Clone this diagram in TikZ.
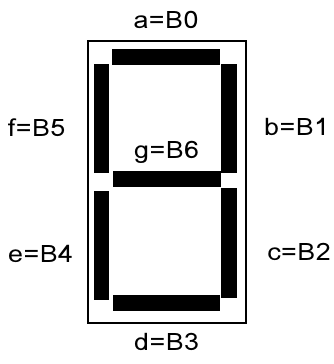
\documentclass[tikz,border=0pt]{standalone}
\usepackage{fontspec}
\setmainfont[FakeStretch=1.12,LetterSpace=2]{Loma}
\usepackage{tikz}
\usetikzlibrary{positioning}

\begin{document}
\begin{tikzpicture}[
    x=1pt, y=-1pt,
    hseg/.style={rectangle, fill=black, inner sep=0pt, minimum width=107.5pt, minimum height=15.5pt},
    vseg/.style={rectangle, fill=black, inner sep=0pt, minimum width=15.3pt, minimum height=109.5pt},
    frame/.style={rectangle, draw=black, line width=2pt, inner sep=0pt, minimum width=158.6pt, minimum height=281.8pt},
    pin/.style={anchor=base, inner sep=0pt, font=\fontsize{24}{28}\selectfont}
]
\useasboundingbox (0,0) rectangle (334,364);
% display housing
\node[frame] (display) at (167,182) {};
% segments
\node[hseg] (sega) at (166.2,57.2) {};
\node[vseg] (segb) at (229,118.3) {};
\node[vseg] (segc) at (229,243) {};
\node[hseg] (segd) at (166.3,303) {};
\node[vseg] (sege) at (101.5,245.3) {};
\node[vseg] (segf) at (101.7,118.3) {};
\node[hseg] (segg) at (167.2,179.2) {};
% bit labels
\node[pin] (laba) at (166,28) {a=B0};
\node[pin] (labb) at (296.7,135) {b=B1};
\node[pin] (labc) at (299,260) {c=B2};
\node[pin] (labd) at (166.7,350) {d=B3};
\node[pin] (labe) at (40.7,262) {e=B4};
\node[pin] (labf) at (36.7,136.7) {f=B5};
\node[pin] (labg) at (166.7,158) {g=B6};
\end{tikzpicture}
\end{document}
